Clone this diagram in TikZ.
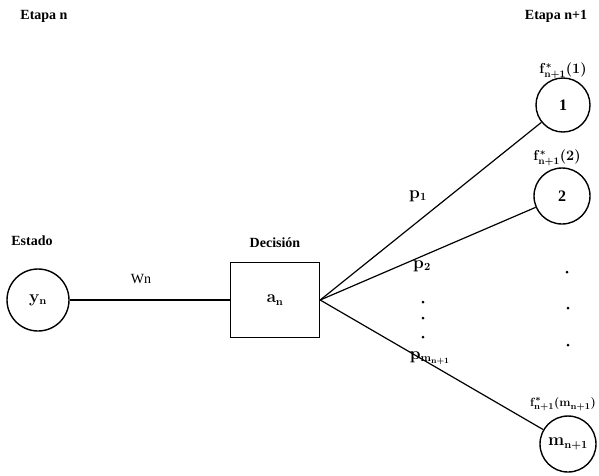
\documentclass[tikz,border=0pt]{standalone}
\usepackage{fontspec}
\setmainfont{Liberation Serif}
\begin{document}
\begin{tikzpicture}[x=1pt,y=-1pt,
  lbl/.style={font=\bfseries\boldmath\fontsize{14}{15}\selectfont, inner sep=0pt},
  plbl/.style={font=\bfseries\boldmath\fontsize{16}{17}\selectfont, inner sep=0pt},
  flbl/.style={font=\bfseries\boldmath\fontsize{14}{15}\selectfont, inner sep=0pt},
  st/.style={circle, draw, line width=1.4pt, minimum size=56pt, inner sep=0pt, font=\bfseries\boldmath\fontsize{16}{17}\selectfont},
  dec/.style={rectangle, draw, line width=1.4pt, minimum width=89pt, minimum height=75pt, inner sep=0pt, font=\bfseries\boldmath\fontsize{16}{17}\selectfont},
  edge/.style={line width=1.2pt},
  dotc/.style={circle, fill, inner sep=0pt, minimum size=3pt}]
\useasboundingbox (0,0) rectangle (599,475);
\node[lbl] (en) at (44,16) {Etapa n};
\node[lbl] (en1) at (556,16) {Etapa n+1};
\node[lbl] (est) at (32,241) {Estado};
\node[lbl] (deci) at (275,243) {Decisión};
\node[lbl, font=\fontsize{14}{15}\selectfont] (wn) at (141,279) {Wn};
\node[st, minimum size=62pt] (y) at (38,300) {$\mathbf{y}_{\mathbf{n}}$};
\node[dec] (a) at (275,300) {$\mathbf{a}_{\mathbf{n}}$};
\node[st, minimum size=54pt] (c1) at (563,105) {1};
\node[st] (c2) at (562,196) {2};
\node[st] (cm) at (568,444) {$\mathbf{m}_{\mathbf{n+1}}$};
\draw[edge] (y) -- (a);
\draw[edge] (a.east) -- (c1);
\draw[edge] (a.east) -- (c2);
\draw[edge] (a.east) -- (cm);
\node[plbl] (p1) at (418,196) {$\mathbf{p}_{\mathbf{1}}$};
\node[plbl] (p2) at (422,266) {$\mathbf{p}_{\mathbf{2}}$};
\node[plbl] (pm) at (430,358) {$\mathbf{p}_{\mathbf{m}_{\mathbf{n+1}}}$};
\node[dotc] (d1) at (423,302) {};
\node[dotc] (d2) at (423,318) {};
\node[dotc] (d3) at (423,337) {};
\node[dotc] (r1) at (567,272) {};
\node[dotc] (r2) at (568,308) {};
\node[dotc] (r3) at (568,345) {};
\node[flbl] (f1) at (563,71) {$\mathbf{f}^{*}_{\mathbf{n+1}}\mathbf{(1)}$};
\node[flbl] (f2) at (557,158) {$\mathbf{f}^{*}_{\mathbf{n+1}}\mathbf{(2)}$};
\node[flbl, font=\bfseries\boldmath\fontsize{13}{14}\selectfont] (fm) at (563,404) {$\mathbf{f}^{*}_{\mathbf{n+1}}\mathbf{(m}_{\mathbf{n+1}}\mathbf{)}$};
\end{tikzpicture}
\end{document}
